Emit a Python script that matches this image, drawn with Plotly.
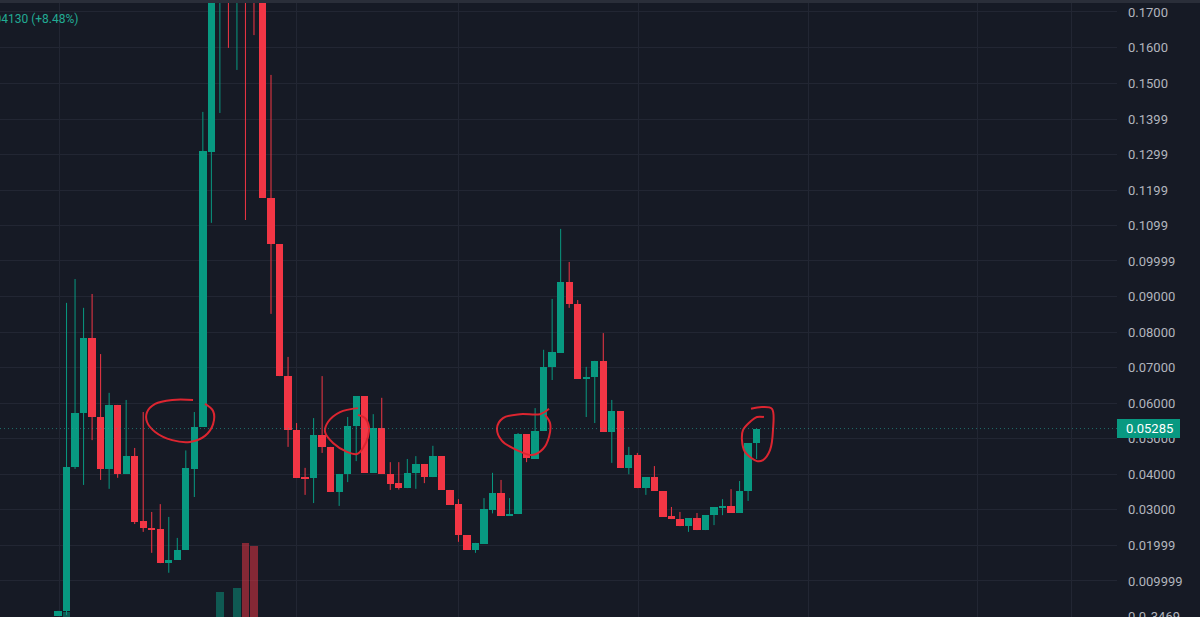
import plotly.graph_objects as go

# ---- data (price per candle) ----
opens  = [0.0002, 0.0015, 0.0420, 0.0572, 0.0783, 0.0561, 0.0415, 0.0595, 0.0401, 0.0451,
          0.0269, 0.0249, 0.0246, 0.0150, 0.0159, 0.0187, 0.0415, 0.0533, 0.1306, 0.1900,
          0.2050, 0.1900, 0.2100, 0.2000, 0.1850, 0.1177, 0.1047, 0.0676, 0.0524, 0.0390,
          0.0390, 0.0510, 0.0477, 0.0350, 0.0401, 0.0536, 0.0620, 0.0404, 0.0530, 0.0401,
          0.0375, 0.0361, 0.0404, 0.0429, 0.0392, 0.0451, 0.0356, 0.0316, 0.0229, 0.0187,
          0.0204, 0.0300, 0.0347, 0.0283, 0.0288, 0.0513, 0.0443, 0.0522, 0.0702, 0.0741,
          0.0941, 0.0879, 0.0668, 0.0673, 0.0719, 0.0519, 0.0578, 0.0418, 0.0454, 0.0361,
          0.0392, 0.0353, 0.0283, 0.0274, 0.0254, 0.0277, 0.0243, 0.0285, 0.0305, 0.0311,
          0.0291, 0.0353, 0.04872]
highs  = [0.0016, 0.0882, 0.0949, 0.0868, 0.0907, 0.0738, 0.0629, 0.0595, 0.0609, 0.0474,
          0.0575, 0.0294, 0.0316, 0.0280, 0.0221, 0.0467, 0.0575, 0.1419, 0.2050, 0.2100,
          0.2150, 0.2200, 0.2250, 0.2100, 0.1900, 0.1523, 0.1047, 0.0730, 0.0544, 0.0418,
          0.0558, 0.0676, 0.0477, 0.0401, 0.0561, 0.0620, 0.0620, 0.0569, 0.0615, 0.0434,
          0.0434, 0.0443, 0.0451, 0.0429, 0.0480, 0.0451, 0.0356, 0.0330, 0.0229, 0.0207,
          0.0333, 0.0404, 0.0384, 0.0333, 0.0516, 0.0513, 0.0586, 0.0750, 0.0893, 0.1090,
          0.0997, 0.0890, 0.0702, 0.0719, 0.0797, 0.0609, 0.0578, 0.0477, 0.0460, 0.0392,
          0.0423, 0.0353, 0.0308, 0.0294, 0.0277, 0.0291, 0.0285, 0.0308, 0.0330, 0.0358,
          0.0381, 0.0487, 0.05285]
lows   = [0.0001, 0.0004, 0.0415, 0.0370, 0.0496, 0.0384, 0.0359, 0.0390, 0.0401, 0.0260,
          0.0238, 0.0179, 0.0150, 0.0123, 0.0159, 0.0187, 0.0336, 0.0533, 0.1107, 0.1416,
          0.1599, 0.1537, 0.1115, 0.1635, 0.1177, 0.0851, 0.0676, 0.0477, 0.0390, 0.0342,
          0.0319, 0.0460, 0.0350, 0.0311, 0.0378, 0.0437, 0.0404, 0.0404, 0.0401, 0.0356,
          0.0357, 0.0361, 0.0359, 0.0375, 0.0392, 0.0356, 0.0314, 0.0210, 0.0187, 0.0179,
          0.0204, 0.0290, 0.0283, 0.0283, 0.0288, 0.0434, 0.0443, 0.0522, 0.0665, 0.0741,
          0.0868, 0.0668, 0.0561, 0.0544, 0.0519, 0.0432, 0.0418, 0.0400, 0.0361, 0.0342,
          0.0353, 0.0280, 0.0274, 0.0254, 0.0238, 0.0243, 0.0243, 0.0257, 0.0285, 0.0291,
          0.0291, 0.0325, 0.0443]
closes = [0.0015, 0.0420, 0.0572, 0.0783, 0.0561, 0.0415, 0.0595, 0.0401, 0.0451, 0.0266,
          0.0249, 0.0243, 0.0150, 0.0159, 0.0187, 0.0418, 0.0533, 0.1309, 0.1950, 0.2000,
          0.1950, 0.2100, 0.1900, 0.1850, 0.1177, 0.1047, 0.0676, 0.0524, 0.0390, 0.0387,
          0.0510, 0.0477, 0.0350, 0.0401, 0.0536, 0.0620, 0.0404, 0.0530, 0.0401, 0.0373,
          0.0361, 0.0404, 0.0429, 0.0392, 0.0451, 0.0356, 0.0314, 0.0229, 0.0187, 0.0207,
          0.0302, 0.0347, 0.0283, 0.0288, 0.0513, 0.0446, 0.0522, 0.0702, 0.0744, 0.0941,
          0.0879, 0.0668, 0.0673, 0.0719, 0.0519, 0.0578, 0.0418, 0.0454, 0.0361, 0.0392,
          0.0353, 0.0280, 0.0274, 0.0254, 0.0277, 0.0243, 0.0285, 0.0308, 0.0311, 0.0291,
          0.0353, 0.0487, 0.05285]
volumes = [0, 4.9, 0, 0, 0, 0, 0, 0, 0, 0,
           0, 0, 0, 0, 0, 0, 0, 0, 0, 24,
           0, 28, 72, 69, 0, 0, 0, 0, 0, 0,
           0, 0, 0, 0, 0, 0, 0, 0, 0, 0,
           0, 0, 0, 0, 0, 0, 0, 0, 0, 0,
           0, 0, 0, 0, 0, 0, 0, 0, 0, 0,
           0, 0, 0, 0, 0, 0, 0, 0, 0, 0,
           0, 0, 0, 0, 0, 0, 0, 0, 0, 0,
           0, 0, 0]

tick_vals = [0.0, 0.009999, 0.01999, 0.03, 0.04, 0.05, 0.06, 0.07, 0.08, 0.09,
             0.09999, 0.1099, 0.1199, 0.1299, 0.1399, 0.15, 0.16, 0.17]
tick_text = ["0.0\u20833469", "0.009999", "0.01999", "0.03000", "0.04000", "0.05000",
             "0.06000", "0.07000", "0.08000", "0.09000", "0.09999", "0.1099", "0.1199",
             "0.1299", "0.1399", "0.1500", "0.1600", "0.1700"]
time_grid = [0.23, 28.05, 46.95, 68.08, 88.03, 107.9, 119.0]

last_price = 0.05285
change_text = "+0.004130 (+8.48%)"

# hand-drawn circles (candle index, price)
circles = [
    [(15.85, 0.0609), (13.4, 0.0609), (11.4, 0.0598), (10.45, 0.0575), (10.45, 0.0547),
     (11.4, 0.0519), (13.4, 0.0496), (15.5, 0.0491), (17.25, 0.0508), (18.2, 0.0541),
     (18.2, 0.0578), (17.25, 0.0598)],
    [(35.21, 0.0586), (33.10, 0.0575), (31.69, 0.0547), (31.34, 0.0519), (32.28, 0.0488),
     (33.92, 0.0463), (35.09, 0.0457), (35.80, 0.0474), (36.38, 0.0505), (36.50, 0.0533),
     (36.03, 0.0558), (35.21, 0.0567)],
    [(57.63, 0.0584), (56.57, 0.0569), (54.23, 0.0569), (52.23, 0.0558), (51.53, 0.0530),
     (52.11, 0.0494), (53.87, 0.0468), (55.63, 0.0454), (56.92, 0.0471), (57.63, 0.0505),
     (57.75, 0.0544), (57.16, 0.0567)],
    [(81.34, 0.0584), (82.63, 0.0589), (83.80, 0.0584), (83.92, 0.0524), (83.57, 0.0468),
     (82.75, 0.0440), (82.04, 0.0437), (80.63, 0.0463), (80.28, 0.0496), (80.40, 0.0524),
     (81.22, 0.0547), (82.04, 0.0561), (82.86, 0.0561)],
]

# ---- styles ----
BG = "#161a25"
GRID = "#222633"
UP = "#089981"
DN = "#f23645"
TXT = "#b2b5be"
FONT = "Roboto"

n = len(opens)
idx = list(range(n))
is_up = [c >= o for o, c in zip(opens, closes)]
MINH = 0.0003
body_base = [min(o, c) for o, c in zip(opens, closes)]
body_h = [max(abs(c - o), MINH) for o, c in zip(opens, closes)]
body_col = [UP if u else DN for u in is_up]

fig = go.Figure()

# wicks
for want, col in ((True, UP), (False, DN)):
    wx, wy = [], []
    for i in idx:
        if is_up[i] == want:
            wx += [i, i, None]
            wy += [lows[i], highs[i], None]
    fig.add_trace(go.Scatter(x=wx, y=wy, mode="lines", line=dict(color=col, width=1),
                             hoverinfo="skip", showlegend=False))

# bodies
fig.add_trace(go.Bar(x=idx, y=body_h, base=body_base, width=0.86,
                     marker=dict(color=body_col, line=dict(width=0)),
                     showlegend=False, hoverinfo="skip"))

# volume
vol_col = ["rgba(8,153,129,0.5)" if u else "rgba(242,54,69,0.5)" for u in is_up]
fig.add_trace(go.Bar(x=idx, y=volumes, width=0.86, yaxis="y2",
                     marker=dict(color=vol_col, line=dict(width=0)),
                     showlegend=False, hoverinfo="skip"))

# circles
for pts in circles:
    fig.add_trace(go.Scatter(x=[p[0] for p in pts], y=[p[1] for p in pts], mode="lines",
                             line=dict(color="#dc2530", width=2, shape="spline", smoothing=1),
                             hoverinfo="skip", showlegend=False))

W, H = 1200, 617
R = 83
fig.update_layout(
    width=W, height=H,
    margin=dict(l=0, r=R, t=0, b=0, autoexpand=False),
    paper_bgcolor=BG, plot_bgcolor=BG,
    barmode="overlay", bargap=0,
    showlegend=False,
    font=dict(family=FONT, color=TXT, size=13),
    xaxis=dict(range=[-6.81, 124.3], tickvals=time_grid, showticklabels=False,
               showgrid=True, gridcolor=GRID, gridwidth=1, zeroline=False,
               showline=False, ticks="", automargin=False),
    yaxis=dict(range=[-0.00014, 0.17337], side="right", tickvals=tick_vals,
               ticktext=tick_text, showgrid=True, gridcolor=GRID, gridwidth=1,
               zeroline=False, showline=False, ticks="", ticklabelstandoff=10,
               ticklabeloverflow="allow", automargin=False,
               tickfont=dict(family=FONT, size=13, color=TXT)),
    yaxis2=dict(overlaying="y", range=[0, 600], visible=False, automargin=False),
)

plot_w = W - R
# top band
fig.add_shape(type="rect", xref="paper", yref="paper", x0=0, x1=W / plot_w,
              y0=1 - 3 / H, y1=1, fillcolor="#2a2e39", line=dict(width=0), layer="above")
# last price dotted line
fig.add_shape(type="line", xref="paper", yref="y", x0=0, x1=1, y0=last_price, y1=last_price,
              line=dict(color="rgba(38,166,154,0.6)", width=1, dash="1px,3px"), layer="above")
# last price label box
half = 0.00267
fig.add_shape(type="rect", xref="paper", yref="y", x0=1.0, x1=1180 / plot_w,
              y0=last_price - half, y1=last_price + half, fillcolor=UP,
              line=dict(width=0), layer="above")
fig.add_annotation(xref="paper", yref="y", x=1149 / plot_w, y=last_price,
                   text=f"{last_price:.5f}", showarrow=False, xanchor="center",
                   yanchor="middle", font=dict(family=FONT, size=13, color="#ffffff"))
# legend change text (clipped at left edge)
fig.add_annotation(xref="paper", yref="paper", x=80 / plot_w, y=1 - 19 / H,
                   text=change_text, showarrow=False, xanchor="right", yanchor="middle",
                   font=dict(family=FONT, size=12, color="#22ab94"))

fig.write_html("out.html", config={"displayModeBar": False},
               post_script="document.body.style.margin='0';document.body.style.overflow='hidden';")
